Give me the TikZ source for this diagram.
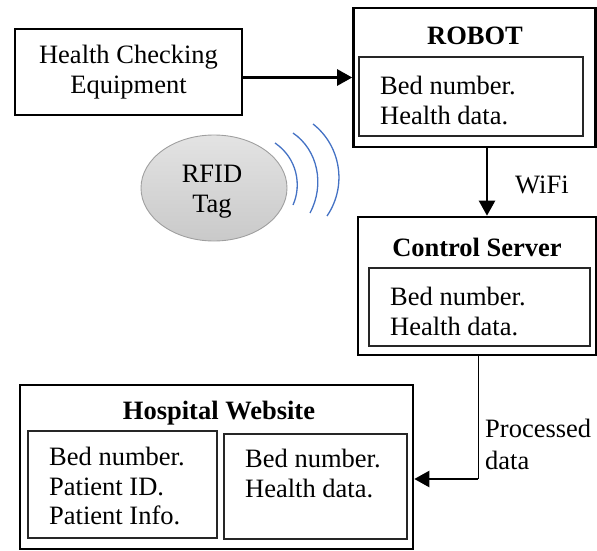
\documentclass[tikz,border=0pt]{standalone}
\usepackage{fontspec}
\setmainfont{Liberation Serif}
\usetikzlibrary{arrows.meta,shapes.geometric}
\definecolor{wave}{HTML}{4472C4}
\tikzset{
  outerbox/.style={draw=black, line width=2.6pt, inner sep=0pt, rectangle},
  innerbox/.style={draw=black!85, line width=1.1pt, inner sep=0pt, rectangle},
  txt/.style={inner sep=0pt, align=left, font=\fontsize{26.5}{29.5}\selectfont},
  ctxt/.style={inner sep=0pt, align=center, font=\fontsize{26.5}{30}\selectfont},
  title/.style={inner sep=0pt, font=\fontsize{26.5}{30}\selectfont\bfseries},
  flow/.style={line width=2.6pt, -{Triangle[length=15pt,width=16pt]}},
  wavearc/.style={draw=wave, line width=1.3pt},
}
\begin{document}
\begin{tikzpicture}[x=1pt,y=-1pt]
\useasboundingbox (0,0) rectangle (597,551);

% Health checking equipment
\node[outerbox, minimum width=227pt, minimum height=86pt] (health) at (128.5,72) {};
\node[ctxt] (healthtxt) at (128.5,72.5) {Health Checking\\Equipment};

% Robot
\node[outerbox, minimum width=242pt, minimum height=139pt] (robot) at (474.5,77.5) {};
\node[title] (robottitle) at (475,36) {ROBOT};
\node[innerbox, minimum width=224pt, minimum height=79pt] (robotin) at (471,96.5) {};
\node[txt, anchor=west] (robottxt) at (380,100.5) {Bed number.\\Health data.};

% Control server
\node[outerbox, minimum width=238pt, minimum height=138pt] (server) at (477,286) {};
\node[title] (servertitle) at (477,247) {Control Server};
\node[innerbox, minimum width=221pt, minimum height=78pt] (serverin) at (479.5,307) {};
\node[txt, anchor=west] (servertxt) at (390,311.5) {Bed number.\\Health data.};

% Hospital website
\node[outerbox, minimum width=393pt, minimum height=164pt] (hosp) at (216.5,467) {};
\node[title] (hosptitle) at (219,413) {Hospital Website};
\node[innerbox, minimum width=189pt, minimum height=107pt] (hospleft) at (122.5,484.5) {};
\node[txt, anchor=west] (hosplefttxt) at (49,486) {Bed number.\\Patient ID.\\Patient Info.};
\node[innerbox, minimum width=183pt, minimum height=105pt] (hospright) at (315.5,486.5) {};
\node[txt, anchor=west] (hosprighttxt) at (245,473.5) {Bed number.\\Health data.};

% RFID tag with radio waves
\node[ellipse, minimum width=146pt, minimum height=106pt, draw=gray!75, line width=0.9pt,
      top color=gray!22, bottom color=gray!42] (rfid) at (214,188) {};
\node[ctxt] (rfidtxt) at (212,192) {RFID\\Tag};
\draw[wavearc] (275,143) .. controls (297,158) and (302,185) .. (293,205);
\draw[wavearc] (293,133) .. controls (318,150) and (325,185) .. (310,213);
\draw[wavearc] (313,124) .. controls (340,145) and (348,185) .. (327,216);

% Connectors
\draw[flow] (health.east |- robot.west) -- (robot.west);

\coordinate (wifix) at (487,0);
\draw[flow, line width=2.3pt] (robot.south -| wifix) -- (server.north -| wifix);
\node[ctxt, anchor=west] (wifitxt) at (515,185) {WiFi};

\coordinate (bend) at (478,479);
\draw[line width=1pt] (server.south -| bend) -- (bend);
\draw[flow, line width=2.3pt] (bend) -- (bend -| hosp.east);
\node[txt, anchor=west, font=\fontsize{26.5}{32}\selectfont] (proctxt) at (485,444) {Processed\\data};
\end{tikzpicture}
\end{document}
